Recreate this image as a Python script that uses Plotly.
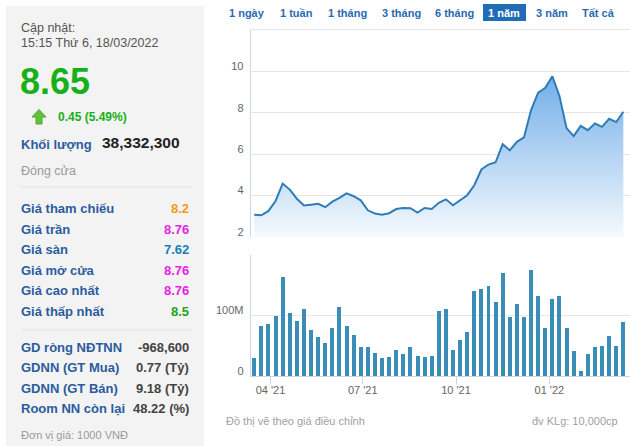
import pandas as pd
import plotly.graph_objects as go

# ---------------- data ----------------
start_date = "2021-03-16"
n_weeks = 53
price = [3.08, 3.05, 3.26, 3.74, 4.58, 4.29, 3.85, 3.52, 3.56, 3.60, 3.44, 3.71, 3.89,
         4.11, 3.97, 3.77, 3.29, 3.13, 3.08, 3.15, 3.35, 3.40, 3.39, 3.18, 3.40, 3.35,
         3.65, 3.82, 3.53, 3.76, 4.02, 4.50, 5.26, 5.50, 5.61, 6.48, 6.19, 6.60, 6.81,
         8.13, 8.97, 9.21, 9.76, 8.81, 7.26, 6.87, 7.37, 7.16, 7.48, 7.32, 7.71, 7.55, 8.05]
volume_m = [29.7, 82.4, 85.7, 98.9, 163.0, 103.8, 90.7, 109.9, 75.8, 64.8, 54.9, 79.1,
            113.2, 82.4, 67.6, 48.4, 48.4, 37.4, 29.7, 30.8, 42.3, 35.7, 48.4, 32.4, 30.8,
            32.4, 106.6, 109.9, 42.3, 58.8, 73.1, 140.7, 143.4, 148.9, 121.4, 169.8, 97.3,
            118.1, 97.3, 174.2, 131.3, 79.1, 126.4, 132.4, 79.1, 41.2, 8.8, 35.7, 48.4,
            50.0, 66.5, 50.0, 89.0]
x_tickvals = ["2021-04-01", "2021-07-01", "2021-10-01", "2022-01-01"]
x_ticktext = ["04 '21", "07 '21", "10 '21", "01 '22"]
price_ticks = [2, 4, 6, 8, 10, 12]
price_ticktext = ["2", "4", "6", "8", "10", ""]
vol_ticks = [0, 100e6, 200e6]
vol_ticktext = ["0", "100M", ""]
x_range = ["2021-03-12 11:00", "2022-03-21 14:00"]

range_buttons = ["1 ngày", "1 tuần", "1 tháng", "3 tháng", "6 tháng", "1 năm", "3 năm", "Tất cả"]
range_btn_x = [247, 296, 347, 401, 454, 504, 552, 598]
active_btn = "1 năm"

info_rows = [("Giá tham chiếu", "8.2", "#f39a1e"),
             ("Giá trần", "8.76", "#e81ee8"),
             ("Giá sàn", "7.62", "#1a7fb4"),
             ("Giá mở cửa", "8.76", "#e81ee8"),
             ("Giá cao nhất", "8.76", "#e81ee8"),
             ("Giá thấp nhất", "8.5", "#1aa51a")]
info_y = [208, 229, 249.5, 270, 290.5, 311]
foreign_rows = [("GD ròng NĐTNN", "-968,600"),
                ("GDNN (GT Mua)", "0.77 (Tỷ)"),
                ("GDNN (GT Bán)", "9.18 (Tỷ)"),
                ("Room NN còn lại", "48.22 (%)")]
foreign_y = [347, 367.5, 388, 408.5]

dates = pd.date_range(start_date, periods=n_weeks, freq="7D")
volume = [v * 1e6 for v in volume_m]

W, H = 630, 446
def px(x): return x / W
def py(y): return 1 - y / H

FONT = "Arial, Liberation Sans, sans-serif"
LBL_BLUE = "#2b5c9e"

fig = go.Figure()
fig.add_trace(go.Scatter(
    x=dates, y=price, mode="lines", line=dict(color="#2f7db8", width=2),
    fill="tozeroy",
    fillgradient=dict(type="vertical", start=2, stop=10,
                      colorscale=[[0, "rgb(246,250,254)"], [1, "rgb(112,172,231)"]]),
    xaxis="x", yaxis="y", hoverinfo="skip", showlegend=False))
fig.add_trace(go.Bar(
    x=dates, y=volume, marker=dict(color="#3a8db6", line=dict(width=0)),
    width=7 * 24 * 3600 * 1000 * 0.56,
    xaxis="x2", yaxis="y2", hoverinfo="skip", showlegend=False))

axfont = dict(family=FONT, size=11, color="#666666")
fig.update_layout(
    template="none",
    width=W, height=H, margin=dict(l=0, r=0, t=0, b=0, pad=0), autosize=False,
    paper_bgcolor="white", plot_bgcolor="rgba(0,0,0,0)",
    xaxis=dict(domain=[px(250.7), 1], range=x_range, type="date", showticklabels=False,
               showgrid=False, zeroline=False, showline=False, automargin=False, ticks=""),
    yaxis=dict(domain=[py(237), py(30)], range=[2, 12], tickvals=price_ticks,
               ticktext=price_ticktext, showgrid=True, gridcolor="#e6e6e6", gridwidth=1,
               zeroline=False, showline=True, linecolor="#ccd6eb", linewidth=1,
               automargin=False,
               ticks="", tickfont=axfont, ticklabelstandoff=4, ticklabelshift=-5),
    xaxis2=dict(domain=[px(250.7), 1], range=x_range, type="date", anchor="y2",
                tickvals=x_tickvals, ticktext=x_ticktext, tickfont=axfont,
                showgrid=False, zeroline=False, showline=True, linecolor="#ccd6eb",
                automargin=False, ticklabelstandoff=-3,
                ticks="outside", ticklen=7, tickcolor="#ccd6eb"),
    yaxis2=dict(domain=[py(376), py(254.7)], range=[0, 200e6], tickvals=vol_ticks,
                ticktext=vol_ticktext, showgrid=True, gridcolor="#e6e6e6",
                zeroline=False, showline=True, linecolor="#ccd6eb", linewidth=1,
                automargin=False,
                ticks="", tickfont=axfont, ticklabelstandoff=4, ticklabelshift=-5),
    bargap=0,
)

shapes = []
annotations = []
# left panel
shapes.append(dict(type="rect", xref="paper", yref="paper", x0=px(6), x1=px(204),
                   y0=py(446), y1=py(6), fillcolor="#f3f3f3", line=dict(width=0), layer="below"))
for yy in (187, 330):
    shapes.append(dict(type="line", xref="paper", yref="paper", x0=px(21), x1=px(192),
                       y0=py(yy), y1=py(yy), line=dict(color="#e4e4e4", width=1)))

def txt(x, y, s, size=13, color="#333", bold=False, xanchor="left"):
    if bold:
        s = "<b>" + s + "</b>"
    annotations.append(dict(x=px(x), y=py(y), xref="paper", yref="paper", text=s,
                            showarrow=False, xanchor=xanchor, yanchor="middle",
                            font=dict(family=FONT, size=size, color=color)))

txt(19, 28, "Cập nhật:", 12.5, "#555555")
txt(19, 42.5, "15:15 Thứ 6, 18/03/2022", 12.5, "#555555")
txt(18, 82, "8.65", 36, "#17b117", True)
# up arrow icon
ax, ay = 39, 117
path = (f"M {px(ax-7)},{py(ay)} L {px(ax)},{py(ay-7.5)} L {px(ax+7)},{py(ay)} "
        f"L {px(ax+3)},{py(ay)} L {px(ax+3)},{py(ay+7)} L {px(ax-3)},{py(ay+7)} "
        f"L {px(ax-3)},{py(ay)} Z")
shapes.append(dict(type="path", xref="paper", yref="paper", path=path,
                   fillcolor="#62c23a", line=dict(color="#4aa82a", width=1)))
txt(56, 117, "0.45 (5.49%)", 12, "#17b117", True)
txt(19, 144, "Khối lượng", 13, LBL_BLUE, True)
txt(182, 143, "38,332,300", 15.5, "#222222", True, "right")
txt(19, 171, "Đóng cửa", 12.5, "#9a9a9a")

for (lab, val, col), yy in zip(info_rows, info_y):
    txt(19, yy, lab, 13, LBL_BLUE, True)
    txt(191, yy, val, 13, col, True, "right")
for (lab, val), yy in zip(foreign_rows, foreign_y):
    txt(19, yy, lab, 13, LBL_BLUE, True)
    txt(191, yy, val, 13, "#444444", True, "right")
txt(19, 435, "Đơn vị giá: 1000 VNĐ", 11, "#9a9a9a")

# range buttons
shapes.append(dict(type="rect", xref="paper", yref="paper", x0=px(483), x1=px(526),
                   y0=py(21), y1=py(4), fillcolor="#1f6db5", line=dict(width=0)))
for lab, bx in zip(range_buttons, range_btn_x):
    col = "white" if lab == active_btn else "#2a6ab1"
    annotations.append(dict(x=px(bx), y=py(12.5), xref="paper", yref="paper",
                            text="<b>" + lab + "</b>", showarrow=False, xanchor="center",
                            yanchor="middle", font=dict(family=FONT, size=11, color=col)))
shapes.append(dict(type="line", xref="paper", yref="paper", x0=px(250), x1=1,
                   y0=py(29.5), y1=py(29.5), line=dict(color="#e6e6e6", width=1)))

txt(224, 421, "Đồ thị vẽ theo giá điều chỉnh", 11, "#a0a0a0")
txt(620, 421, "đv KLg: 10,000cp", 11, "#a0a0a0", xanchor="right")

fig.update_layout(shapes=shapes, annotations=annotations)

post = """
document.documentElement.style.overflow='hidden';
document.body.style.overflow='hidden';
document.body.style.margin='0';
"""
fig.write_html(
    "out.html",
    config={"displayModeBar": False, "responsive": False, "staticPlot": True},
    post_script=post,
)
